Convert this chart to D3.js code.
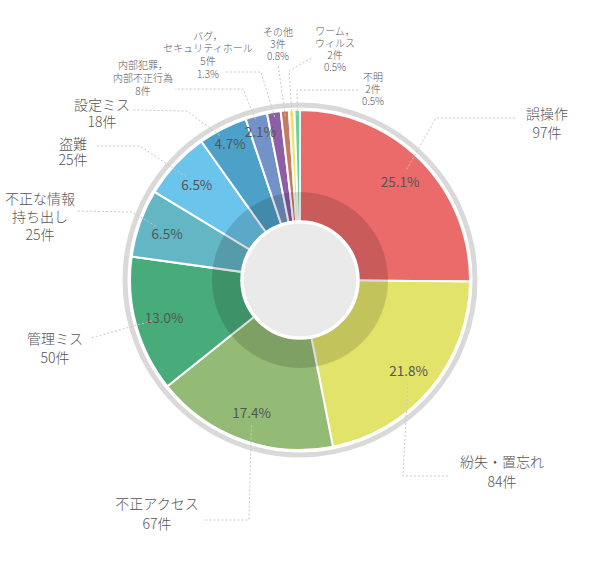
<!DOCTYPE html>
<html>
<head>
<meta charset="utf-8">
<script src="https://cdn.jsdelivr.net/npm/d3@7"></script>
<style>
  html, body { margin: 0; padding: 0; background: #fff; }
  svg { display: block; font-family: "Noto Sans CJK JP", "Noto Sans", sans-serif; }
</style>
</head>
<body>
<svg id="chart" width="604" height="563"></svg>
<script>
// 情報漏えいの原因（件数）
const categories = ["誤操作", "紛失・置忘れ", "不正アクセス", "管理ミス", "不正な情報持ち出し", "盗難",
  "設定ミス", "内部犯罪，内部不正行為", "バグ，セキュリティホール", "その他", "ワーム，ウィルス", "不明"];
const counts = [97, 84, 67, 50, 25, 25, 18, 8, 5, 3, 2, 2];
const labelLines = [
  ["誤操作"], ["紛失・置忘れ"], ["不正アクセス"], ["管理ミス"], ["不正な情報", "持ち出し"], ["盗難"],
  ["設定ミス"], ["内部犯罪，", "内部不正行為"], ["バグ，", "セキュリティホール"], ["その他"], ["ワーム，", "ウィルス"], ["不明"]
];
const colors = ["#eb6a6a", "#e2e36a", "#93bb75", "#47ab7a", "#63b6c4", "#6ac4eb",
  "#4da1c8", "#7393c8", "#8d5ea6", "#c87a60", "#ede46a", "#69d39a"];

// callout layout: elbow point, end point, text centre x / first line y, line gap, font size
const callouts = [
  { elbow: [436, 118], end: [517, 118], tx: 547, ty: 113, gap: 19, size: 14 },
  { elbow: [403, 476], end: [450, 476], tx: 502, ty: 461, gap: 20, size: 14 },
  { elbow: [249, 520], end: [203, 520], tx: 157, ty: 503, gap: 20, size: 14 },
  { elbow: [91, 338], end: [91, 338], tx: 55, ty: 338, gap: 19, size: 14 },
  { elbow: [132, 212], end: [76, 211], tx: 40, ty: 198, gap: 18, size: 14 },
  { elbow: [140, 146], end: [97, 146], tx: 73, ty: 143, gap: 16, size: 14 },
  { elbow: [187, 111], end: [133, 110], tx: 102, ty: 103.5, gap: 17.5, size: 14 },
  { elbow: [243, 89], end: [175, 89], tx: 143, ty: 64, gap: 13, size: 10 },
  { elbow: [261, 72], end: [225, 72], tx: 208, ty: 35, gap: 12.7, size: 10 },
  { elbow: [278, 64], end: [278, 64], tx: 278, ty: 31, gap: 12, size: 10 },
  { elbow: [289, 71], end: [313, 57], tx: 335, ty: 30, gap: 12, size: 10 },
  { elbow: [297, 90], end: [358, 90], tx: 373, ty: 76, gap: 12, size: 10 }
];

const width = 604, height = 563;
const cx = 300, cy = 280;
const outerR = 170, ringR = 175, bandR = 88, holeR = 58;
const total = d3.sum(counts);
const pct = v => (v / total * 100).toFixed(1) + "%";

const svg = d3.select("#chart");
const g = svg.append("g").attr("transform", `translate(${cx},${cy})`);

const pie = d3.pie().sort(null).value(d => d);
const arcs = pie(counts);
const arc = d3.arc().innerRadius(0).outerRadius(outerR);
const labelArc = d3.arc().innerRadius(141).outerRadius(141);
const smallArc = d3.arc().innerRadius(165).outerRadius(165);

// outer grey ring
g.append("circle")
  .attr("r", ringR)
  .attr("fill", "none")
  .attr("stroke", "#d9d9d9")
  .attr("stroke-width", 5);

g.selectAll("path.slice")
  .data(arcs)
  .join("path")
    .attr("class", "slice")
    .attr("d", arc)
    .attr("fill", (d, i) => colors[i])
    .attr("stroke", "#fff")
    .attr("stroke-width", 2);

// darker band + hole
g.append("circle")
  .attr("r", bandR)
  .attr("fill", "#000")
  .attr("fill-opacity", 0.14);

g.append("circle")
  .attr("r", holeR)
  .attr("fill", "#eaeaea")
  .attr("stroke", "#fff")
  .attr("stroke-width", 3.5);

// inner percentage labels for slices >= 2%
const showInner = d => d.value / total >= 0.02;
const innerPos = d => {
  const p = labelArc.centroid(d);
  if (d.value / total < 0.05) {
    const k = 154 / 141;
    return [p[0] * k, p[1] * k];
  }
  return p;
};

// leader lines (drawn in page coords)
const leaders = svg.append("g");
arcs.forEach((d, i) => {
  const c = callouts[i];
  let start;
  if (showInner(d)) {
    const p = innerPos(d);
    const lp = [p[0] + cx, p[1] + cy];
    const dx = c.elbow[0] - lp[0], dy = c.elbow[1] - lp[1];
    const len = Math.hypot(dx, dy);
    start = [lp[0] + dx / len * 13, lp[1] + dy / len * 13];
  } else {
    const p = smallArc.centroid(d);
    start = [p[0] + cx, p[1] + cy];
  }
  leaders.append("path")
    .attr("d", d3.line()([start, c.elbow, c.end]))
    .attr("fill", "none")
    .attr("stroke", "#c8c8c8")
    .attr("stroke-width", 1)
    .attr("stroke-dasharray", "2,2");
});

g.selectAll("text.pct")
  .data(arcs.filter(showInner))
  .join("text")
    .attr("class", "pct")
    .attr("transform", d => `translate(${innerPos(d)})`)
    .attr("text-anchor", "middle")
    .attr("dominant-baseline", "central")
    .attr("font-size", 13.5)
    .attr("fill", "#555")
    .text(d => pct(d.value));

// outside labels
const labels = svg.append("g");
arcs.forEach((d, i) => {
  const c = callouts[i];
  const lines = labelLines[i].concat([counts[i] + "件"]);
  if (!showInner(d)) lines.push(pct(d.value));
  labels.append("text")
    .attr("text-anchor", "middle")
    .attr("font-size", c.size)
    .attr("font-weight", 300)
    .attr("fill", "#555")
    .selectAll("tspan")
    .data(lines)
    .join("tspan")
      .attr("x", c.tx)
      .attr("y", (t, j) => c.ty + j * c.gap)
      .attr("dominant-baseline", "central")
      .text(t => t);
});
</script>
</body>
</html>
